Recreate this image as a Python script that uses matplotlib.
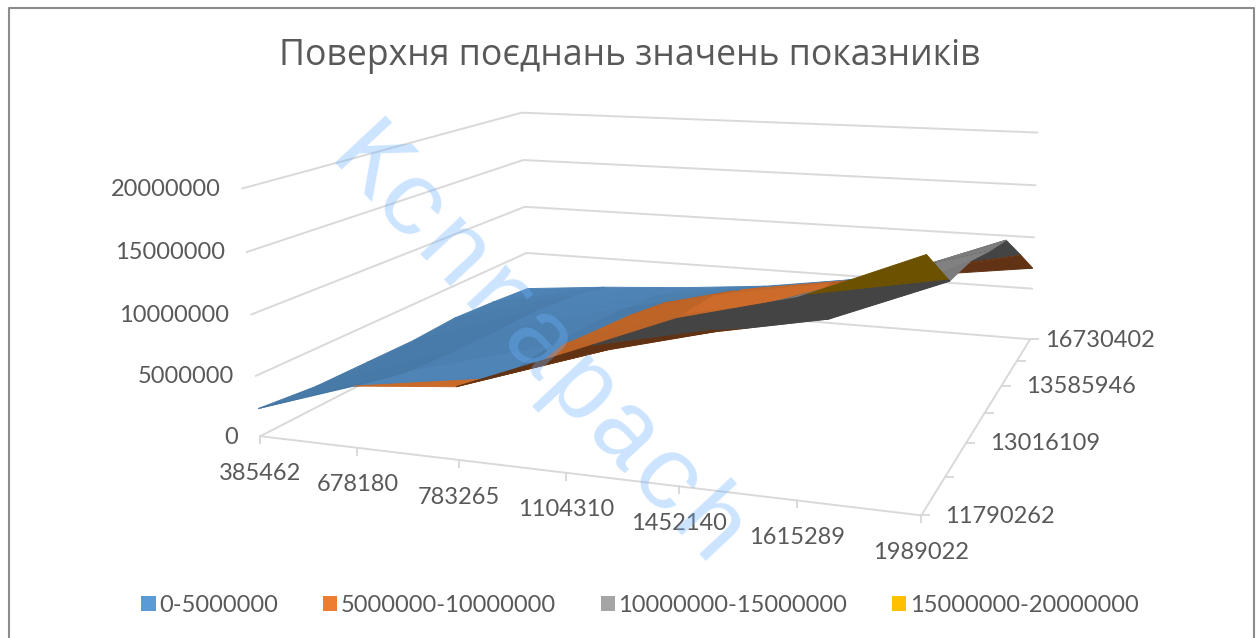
import numpy as np
import matplotlib
matplotlib.use('Agg')
import matplotlib.pyplot as plt
from matplotlib.patches import Patch, Polygon

plt.rcParams['font.family'] = ['Lato', 'Open Sans', 'DejaVu Sans']

title = 'Поверхня поєднань значень показників'
x_labels = ['385462', '678180', '783265', '1104310', '1452140', '1615289', '1989022']
# глибина: підписано лише кожну другу категорію
depth_labels = ['11790262', '', '13016109', '', '13585946', '', '16730402']
z_ticks = [0, 5000000, 10000000, 15000000, 20000000]
bands = ['0-5000000', '5000000-10000000', '10000000-15000000', '15000000-20000000']
band_colors = ['#5B9BD5', '#ED7D31', '#A5A5A5', '#FFC000']

# значення поверхні, по одному ряду на кожну категорію глибини
row_0 = [2300000, 5000000, 5800000, 9100000, 12500000, 14700000, 18300000]
row_1 = [1800000, 3900000, 4500000, 7300000, 9500000, 11200000, 14700000]
row_2 = [1700000, 3600000, 4700000, 6600000, 9400000, 12300000, 14500000]
row_3 = [1600000, 3400000, 4500000, 6200000, 7600000, 10700000, 13600000]
row_4 = [1800000, 3300000, 4100000, 6000000, 6400000, 9300000, 12900000]
row_5 = [1500000, 2800000, 3500000, 4800000, 6000000, 8000000, 10000000]
row_6 = [1100000, 1900000, 2500000, 3300000, 4600000, 5800000, 7000000]
rows = [row_0, row_1, row_2, row_3, row_4, row_5, row_6]

# кути коробки на картинці: (x, y, z у частках) -> пікселі
corners_3d = [(0, 0, 0), (1, 0, 0), (1, 1, 0), (0, 1, 0), (0, 0, 1), (0, 1, 1), (1, 1, 1)]
corners_px = [(260, 435), (922, 515), (1030, 340), (528, 299), (242, 190), (522, 112), (1037, 132)]


def fit_camera(pts, px):
    A = []
    for (x, y, z), (u, v) in zip(pts, px):
        A.append([x, y, z, 1, 0, 0, 0, 0, -u * x, -u * y, -u * z, -u])
        A.append([0, 0, 0, 0, x, y, z, 1, -v * x, -v * y, -v * z, -v])
    P = np.linalg.svd(np.array(A, dtype=float))[2][-1].reshape(3, 4)
    if P[2, 3] < 0:
        P = -P
    return P


P = fit_camera(corners_3d, corners_px)


def project(pts):
    pts = np.atleast_2d(pts)
    h = P @ np.c_[pts, np.ones(len(pts))].T
    return (h[:2] / h[2]).T, h[2]


def clip_poly(poly, level, keep_above):
    out = []
    for a, b in zip(poly, poly[1:] + poly[:1]):
        a_in = a[2] >= level if keep_above else a[2] <= level
        b_in = b[2] >= level if keep_above else b[2] <= level
        if a_in:
            out.append(a)
        if a_in != b_in:
            t = (level - a[2]) / (b[2] - a[2])
            out.append(tuple(np.array(a) + t * (np.array(b) - np.array(a))))
    return out


def signed_area(xy):
    x, y = xy[:, 0], xy[:, 1]
    return 0.5 * np.sum(x * np.roll(y, -1) - np.roll(x, -1) * y)


def shade_color(hex_color, k):
    rgb = np.array(matplotlib.colors.to_rgb(hex_color))
    return tuple(np.clip(rgb * k, 0, 1))


fig = plt.figure(figsize=(12.57, 6.38), dpi=100)
ax = fig.add_axes([0, 0, 1, 1])
ax.set_xlim(0, 1257)
ax.set_ylim(638, 0)
ax.axis('off')

# рамка діаграми
ax.plot([9, 9, 1254, 1254], [640, 8, 8, 640], color='#8c8c8c', lw=1.5)

grid_color = '#d9d9d9'
text_color = '#595959'

# лінії сітки на стінках
for z in z_ticks:
    f = z / z_ticks[-1]
    xy = project([(0, 0, f), (0, 1, f), (1, 1, f)])[0]
    ax.plot(xy[:, 0], xy[:, 1], color=grid_color, lw=1.4, zorder=1)
    ax.text(xy[0, 0] - 22, xy[0, 1] + 1, str(z), ha='right', va='center',
            color=text_color, fontsize=17)

# вісь x по передньому краю
nx = len(x_labels)
ny = len(depth_labels)
xy = project([(0, 0, 0), (1, 0, 0), (1, 1, 0)])[0]
ax.plot(xy[:, 0], xy[:, 1], color=grid_color, lw=1.4, zorder=1)
for i, lab in enumerate(x_labels):
    t = project([(i / (nx - 1), 0, 0)])[0][0]
    ax.plot([t[0], t[0]], [t[1], t[1] + 7], color=grid_color, lw=1.4, zorder=1)
    ax.text(t[0], t[1] + 37, lab, ha='center', va='center', color=text_color, fontsize=17)
for j, lab in enumerate(depth_labels):
    t = project([(1, j / (ny - 1), 0)])[0][0]
    ax.plot([t[0], t[0] + 8], [t[1], t[1]], color=grid_color, lw=1.4, zorder=1)
    if lab:
        pad = 24 if j < ny - 1 else 15
        ax.text(t[0] + pad, t[1] + 1, lab, ha='left', va='center', color=text_color, fontsize=17)

# поверхня: трикутники, розрізані на смуги значень, від дальніх до ближніх
Z = np.array(rows) / z_ticks[-1]
floor_sign = np.sign(signed_area(project([(0, 0, 0), (1, 0, 0), (1, 1, 0)])[0]))
under_k = [0.78, 0.41, 0.41, 0.42]
faces = []
for j in range(ny - 1):
    for i in range(nx - 1):
        v = [(i / (nx - 1), j / (ny - 1), Z[j, i]),
             ((i + 1) / (nx - 1), j / (ny - 1), Z[j, i + 1]),
             ((i + 1) / (nx - 1), (j + 1) / (ny - 1), Z[j + 1, i + 1]),
             (i / (nx - 1), (j + 1) / (ny - 1), Z[j + 1, i])]
        for tri in ([v[0], v[1], v[2]], [v[0], v[2], v[3]]):
            top = np.sign(signed_area(project(tri)[0])) == floor_sign
            n = np.cross(np.subtract(tri[1], tri[0]), np.subtract(tri[2], tri[0]))
            n = n / np.linalg.norm(n)
            depth = project(tri)[1].mean()
            for b in range(len(bands)):
                lo, hi = b * 0.25, (b + 1) * 0.25
                part = clip_poly(clip_poly(tri, lo, True), hi, False)
                if len(part) >= 3:
                    k = 0.89 + 0.2 * n[0] if top else under_k[b]
                    faces.append((depth, b, project(part)[0], shade_color(band_colors[b], k)))

faces.sort(key=lambda f: -f[0])
for depth, b, xy, col in faces:
    ax.add_patch(Polygon(xy, closed=True, facecolor=col, edgecolor=col, lw=0.7, zorder=3))

ax.text(630, 56, title, ha='center', va='center', color=text_color, fontsize=25.7,
        family=['Open Sans', 'DejaVu Sans'])

handles = [Patch(facecolor=c, edgecolor='none') for c in band_colors]
fig.legend(handles, bands, ncol=4, loc='center', bbox_to_anchor=(640 / 1257, 1 - 605 / 638),
           frameon=False, fontsize=17, labelcolor=text_color, handlelength=0.6, handleheight=0.6,
           handletextpad=0.15, columnspacing=1.9, borderpad=0, borderaxespad=0)

# водяний знак
ax.text(537, 350, 'Kcnrapach', rotation=-47, rotation_mode='anchor', ha='center', va='center',
        color='#6db2ff', alpha=0.35, fontsize=75, family='Liberation Mono', zorder=5)

fig.savefig('out.png', dpi=100)
